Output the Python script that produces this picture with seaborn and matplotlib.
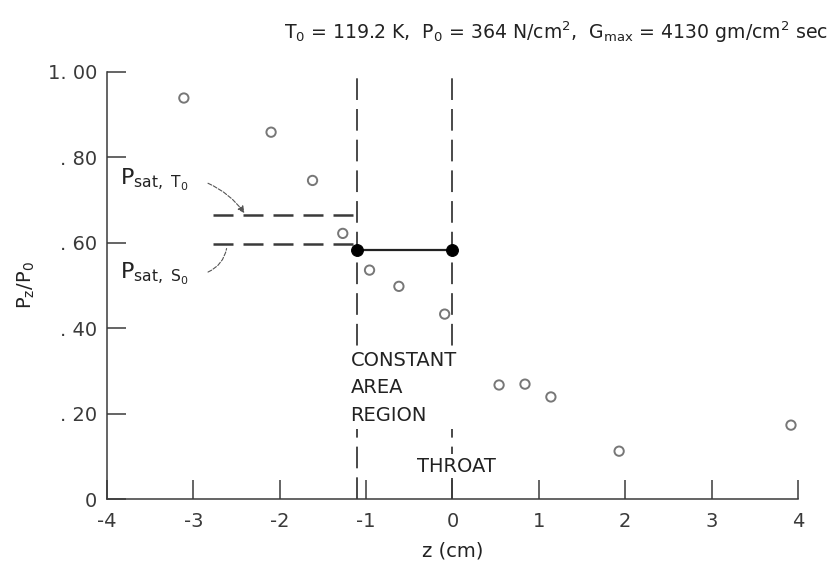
import matplotlib
matplotlib.use('Agg')
import matplotlib.pyplot as plt
import pandas as pd
import seaborn as sns

# Measured wall pressure ratios along the nozzle
z_cm = [-3.11, -2.10, -1.62, -1.27, -0.96, -0.62, -0.09, 0.54, 0.84, 1.14, 1.93, 3.92]
pz_p0 = [0.939, 0.859, 0.746, 0.622, 0.536, 0.498, 0.433, 0.267, 0.269, 0.239, 0.112, 0.173]

# Constant area region (between entrance and throat)
region_z = [-1.1, 0.0]
region_p = [0.584, 0.584]

# Saturation pressures
psat_z = [-2.77, -1.1]
psat_T0 = 0.664
psat_S0 = 0.598

y_ticks = [0, 0.2, 0.4, 0.6, 0.8, 1.0]
y_ticklabels = ['0', '. 20', '. 40', '. 60', '. 80', '1. 00']
x_ticks = [-4, -3, -2, -1, 0, 1, 2, 3, 4]

df = pd.DataFrame({'z': z_cm, 'p': pz_p0})
df_region = pd.DataFrame({'z': region_z, 'p': region_p})

sns.set_style('ticks')
plt.rcParams['font.family'] = ['DejaVu Sans']
plt.rcParams['mathtext.default'] = 'regular'
plt.rcParams['axes.unicode_minus'] = False

ink = '#3a3a3a'
txt = '#222222'

fig = plt.figure(figsize=(8.32, 5.61), dpi=100)
ax = fig.add_axes([0.1286, 0.1105, 0.8304, 0.7612])

sns.scatterplot(data=df, x='z', y='p', ax=ax, marker='o', s=45,
                facecolor='none', edgecolor='#777777', linewidth=1.4, zorder=3)
sns.lineplot(data=df_region, x='z', y='p', ax=ax, color='#222222', lw=1.6,
             marker='o', markersize=8.5, markerfacecolor='black',
             markeredgecolor='black', zorder=4)

# vertical boundaries: constant area entrance and throat
for zb in region_z:
  ax.plot([zb, zb], [0, 1.0], color=ink, lw=1.3, ls=(0, (12, 5)), zorder=2)

# saturation pressure lines
ax.plot(psat_z, [psat_T0, psat_T0], color=ink, lw=1.8, ls=(0, (8, 4)), zorder=2)
ax.plot(psat_z, [psat_S0, psat_S0], color=ink, lw=1.8, ls=(0, (8, 4)), zorder=2)

ax.text(-3.85, 0.735, r'$P_{sat,\ T_0}$', fontsize=16, color=txt)
ax.text(-3.85, 0.515, r'$P_{sat,\ S_0}$', fontsize=16, color=txt)
ax.annotate('', xy=(-2.39, psat_T0), xytext=(-2.86, 0.742),
            arrowprops=dict(arrowstyle='-|>', color='#555555', lw=0.8,
                            ls='--', connectionstyle='arc3,rad=-0.15',
                            mutation_scale=10))
ax.annotate('', xy=(-2.61, psat_S0 - 0.005), xytext=(-2.86, 0.529),
            arrowprops=dict(arrowstyle='-', color='#555555', lw=0.8,
                            ls='--', connectionstyle='arc3,rad=0.3'))

ax.text(-1.18, 0.26, 'CONSTANT\nAREA\nREGION', fontsize=14, color=txt,
        va='center', ha='left', linespacing=1.58, zorder=5,
        bbox=dict(facecolor='white', edgecolor='none', pad=3))
ax.text(0.05, 0.077, 'THROAT', fontsize=14, color=txt, va='center',
        ha='center', zorder=5,
        bbox=dict(facecolor='white', edgecolor='none', pad=2))

ax.set_xlim(-4, 4)
ax.set_ylim(0, 1.0)
ax.set_xticks(x_ticks)
ax.set_yticks(y_ticks)
ax.set_yticklabels(y_ticklabels)
ax.tick_params(direction='in', length=14, width=1.1, colors=ink,
               labelsize=14, pad=9)
ax.tick_params(axis='y', pad=7)
ax.set_xlabel('z (cm)', fontsize=14, color=txt, labelpad=8)
ax.set_ylabel(r'$P_z/P_0$', fontsize=14, color=txt, labelpad=8)
sns.despine(ax=ax)
for sp in ['left', 'bottom']:
  ax.spines[sp].set_color(ink)
  ax.spines[sp].set_linewidth(1.1)

fig.text(0.995, 0.943,
         r'$T_0$ = 119.2 K,  $P_0$ = 364 N/cm$^2$,  $G_{max}$ = 4130 gm/cm$^2$ sec',
         fontsize=13.6, ha='right', va='center', color=txt)

fig.savefig('out.png', dpi=100)
